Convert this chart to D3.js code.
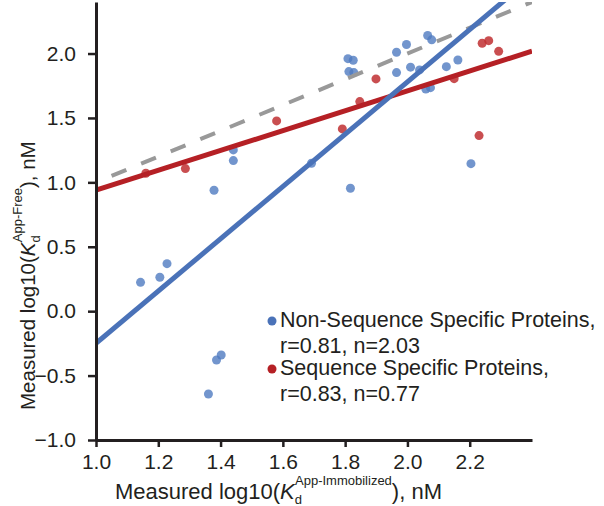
<!DOCTYPE html>
<html>
<head>
<meta charset="utf-8">
<script src="https://cdn.jsdelivr.net/npm/d3@7"></script>
<style>
  body { margin: 0; background: #fff; }
  text { font-family: "Liberation Sans", Arial, sans-serif; fill: #231f20; }
</style>
</head>
<body>
<div id="chart"></div>
<script>
// DATA
// Non-sequence specific proteins (blue)
const blueX = [1.143, 1.205, 1.228, 1.402, 1.387, 1.361, 1.379, 1.441, 1.441, 1.692,
               1.809, 1.826, 1.812, 1.828, 1.965, 1.997, 2.065, 2.078, 1.965, 2.010,
               2.039, 2.125, 2.162, 2.059, 2.074, 1.817, 2.204];
const blueY = [0.224, 0.263, 0.369, -0.340, -0.379, -0.643, 0.939, 1.252, 1.169, 1.148,
               1.960, 1.948, 1.860, 1.852, 2.010, 2.070, 2.140, 2.106, 1.852, 1.894,
               1.873, 1.898, 1.950, 1.725, 1.735, 0.954, 1.145];
// Sequence specific proteins (red)
const redX = [1.160, 1.287, 1.580, 1.791, 1.847, 1.899, 2.150, 2.240, 2.261, 2.293, 2.230];
const redY = [1.071, 1.107, 1.477, 1.415, 1.627, 1.803, 1.805, 2.080, 2.100, 2.017, 1.363];
// fits: y = a + n*(x - 1)
const blueFit = {a: -0.25, n: 2.03};
const redFit = {a: 0.94, n: 0.77};
const xTicks = [1.0, 1.2, 1.4, 1.6, 1.8, 2.0, 2.2];
const yTicks = [-1.0, -0.5, 0.0, 0.5, 1.0, 1.5, 2.0];
const legendLines = [
  ["Non-Sequence Specific Proteins,", "r=0.81, n=2.03"],
  ["Sequence Specific Proteins,", "r=0.83, n=0.77"]
];

const W = 604, H = 506;
const margin = {top: 2, right: 72, bottom: 66, left: 96};
const blue = "#4a72b8", red = "#b52025";

const svg = d3.select("#chart").append("svg")
  .attr("width", W).attr("height", H);

const x = d3.scaleLinear().domain([1.0, 2.4]).range([margin.left, W - margin.right]);
const y = d3.scaleLinear().domain([-1.0, 2.4]).range([H - margin.bottom, margin.top]);

// clip
svg.append("clipPath").attr("id", "plotClip")
  .append("rect")
  .attr("x", x(1.0)).attr("y", y(2.4))
  .attr("width", x(2.4) - x(1.0)).attr("height", y(-1.0) - y(2.4));

const plot = svg.append("g").attr("clip-path", "url(#plotClip)");

// points
plot.selectAll(".bdot").data(blueX).enter().append("circle")
  .attr("class", "bdot")
  .attr("cx", d => x(d))
  .attr("cy", (d, i) => y(blueY[i]))
  .attr("r", 4.5)
  .style("fill", "#4f7bc0")
  .style("opacity", 0.8);

plot.selectAll(".rdot").data(redX).enter().append("circle")
  .attr("class", "rdot")
  .attr("cx", d => x(d))
  .attr("cy", (d, i) => y(redY[i]))
  .attr("r", 4.5)
  .style("fill", "#bf2f31")
  .style("opacity", 0.85);

const line = d3.line().x(d => x(d[0])).y(d => y(d[1]));

// identity line
plot.append("path")
  .attr("d", line([[1.05, 1.05], [2.4, 2.4]]))
  .style("fill", "none")
  .style("stroke", "#999")
  .style("stroke-width", 4)
  .style("stroke-dasharray", "16,16");

// fits
function fitPts(f){ return [[1.0, f.a], [2.4, f.a + f.n * 1.4]]; }
plot.append("path")
  .attr("d", line(fitPts(redFit)))
  .style("fill", "none").style("stroke", red).style("stroke-width", 5);
plot.append("path")
  .attr("d", line(fitPts(blueFit)))
  .style("fill", "none").style("stroke", blue).style("stroke-width", 5);

// axes
const xAxis = svg.append("g")
  .attr("transform", `translate(0,${y(-1.0)})`)
  .call(d3.axisBottom(x).tickValues(xTicks).tickFormat(d3.format(".1f")).tickSize(7).tickSizeOuter(0));
const yAxis = svg.append("g")
  .attr("transform", `translate(${x(1.0)},0)`)
  .call(d3.axisLeft(y).tickValues(yTicks).tickFormat(d => d3.format(".1f")(d).replace("-", "\u2212")).tickSize(8).tickSizeOuter(0));

[xAxis, yAxis].forEach(g => {
  g.select(".domain").style("stroke", "#231f20").style("stroke-width", 3);
  g.selectAll(".tick line").style("stroke", "#231f20").style("stroke-width", 2.5);
  g.selectAll(".tick text").style("font-size", "21px").style("fill", "#231f20");
});
xAxis.selectAll(".tick text").attr("dy", "0.9em");
yAxis.selectAll(".tick text").attr("x", -20);

// x title
const xt = svg.append("text")
  .attr("x", 115).attr("y", 499)
  .style("font-size", "22px");
xt.append("tspan").text("Measured log10(");
xt.append("tspan").style("font-style", "italic").text("K");
xt.append("tspan").attr("dy", 5).style("font-size", "13px").text("d");
xt.append("tspan").attr("dx", -7).attr("dy", -19).style("font-size", "13px").text("App-Immobilized");
xt.append("tspan").attr("dy", 14).text("), nM");

// y title
const yt = svg.append("text")
  .attr("transform", "translate(35,410) rotate(-90)")
  .style("font-size", "20.5px");
yt.append("tspan").text("Measured log10(");
yt.append("tspan").style("font-style", "italic").text("K");
yt.append("tspan").attr("dy", 5).style("font-size", "13px").text("d");
yt.append("tspan").attr("dx", -7).attr("dy", -18).style("font-size", "13px").text("App-Free");
yt.append("tspan").attr("dy", 13).text("), nM");

// legend
const legend = svg.append("g").attr("transform", "translate(272,327)");
[blue, red].forEach((c, i) => {
  const g = legend.append("g").attr("transform", `translate(0,${i * 48})`);
  g.append("circle").attr("cx", 0).attr("cy", -6).attr("r", 4.5).style("fill", c);
  g.append("text").attr("x", 8).attr("y", 0).style("font-size", "21.5px").text(legendLines[i][0]);
  g.append("text").attr("x", 8).attr("y", 26).style("font-size", "21.5px").text(legendLines[i][1]);
});
</script>
</body>
</html>
